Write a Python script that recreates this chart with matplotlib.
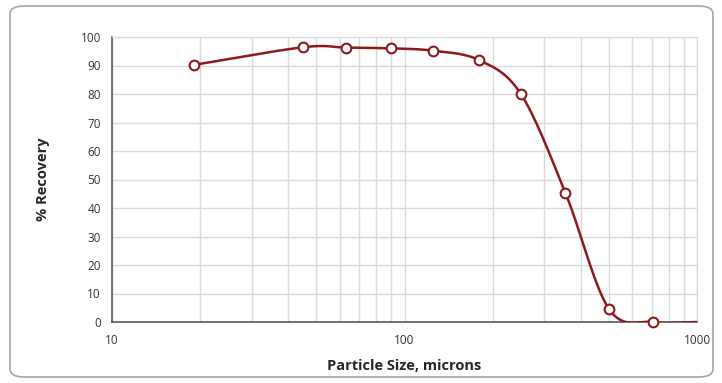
import numpy as np
import matplotlib.pyplot as plt
from matplotlib.patches import FancyBboxPatch
from matplotlib.ticker import FixedLocator, NullFormatter

plt.rcParams['font.family'] = ['Open Sans', 'DejaVu Sans']

# Data
size_um = [19, 45, 63, 90, 125, 180, 250, 355, 500, 710, 1000]
recovery = [90.2, 96.4, 96.3, 96.0, 95.2, 91.9, 80.0, 45.3, 4.6, 0.0, 0.0]
n_markers = 10  # last point only carries the line to the axis end

line_color = '#8c1a1a'


def smooth(xs, ys, n=40):
    # Catmull-Rom style smoothing (like a spreadsheet "smoothed line")
    lx = np.log10(xs)
    ys = np.asarray(ys, dtype=float)
    px = np.concatenate([[2 * lx[0] - lx[1]], lx, [2 * lx[-1] - lx[-2]]])
    py = np.concatenate([[2 * ys[0] - ys[1]], ys, [2 * ys[-1] - ys[-2]]])
    out_x, out_y = [], []
    t = np.linspace(0, 1, n)
    for i in range(1, len(px) - 2):
        p0x, p1x, p2x, p3x = px[i - 1:i + 3]
        p0y, p1y, p2y, p3y = py[i - 1:i + 3]
        c1x = p1x + (p2x - p0x) / 6
        c1y = p1y + (p2y - p0y) / 6
        c2x = p2x - (p3x - p1x) / 6
        c2y = p2y - (p3y - p1y) / 6
        bx = (1 - t) ** 3 * p1x + 3 * (1 - t) ** 2 * t * c1x + 3 * (1 - t) * t ** 2 * c2x + t ** 3 * p2x
        by = (1 - t) ** 3 * p1y + 3 * (1 - t) ** 2 * t * c1y + 3 * (1 - t) * t ** 2 * c2y + t ** 3 * p2y
        out_x.extend(bx)
        out_y.extend(by)
    return 10 ** np.array(out_x), np.array(out_y)


fig = plt.figure(figsize=(7.22, 3.83), dpi=100)

# rounded chart border
frame = FancyBboxPatch((10 / 722, 6 / 383), 703 / 722, 371 / 383,
                       boxstyle='round,pad=0,rounding_size=0.02',
                       transform=fig.transFigure, facecolor='none',
                       edgecolor='#a6a6a6', linewidth=1.2, zorder=-1)
fig.patches.append(frame)

ax = fig.add_axes([112 / 722, 61 / 383, 585 / 722, 285 / 383])
ax.set_xscale('log')
ax.set_xlim(10, 1000)
ax.set_ylim(0, 100)

sx, sy = smooth(size_um, recovery)
ax.plot(sx, sy, color=line_color, linewidth=1.8, zorder=3)
ax.plot(size_um[:n_markers], recovery[:n_markers], linestyle='none', marker='o',
        markersize=7, markerfacecolor='white', markeredgecolor=line_color,
        markeredgewidth=1.5, zorder=4, clip_on=False)

ax.set_yticks(range(0, 101, 10))
ax.set_xticks([10, 100, 1000])
ax.set_xticklabels(['10', '100', '1000'])
ax.xaxis.set_minor_locator(FixedLocator([m * d for d in (10, 100) for m in range(2, 10)]))
ax.xaxis.set_minor_formatter(NullFormatter())

ax.grid(True, which='both', axis='x', color='#d9d9d9', linewidth=1)
ax.grid(True, which='major', axis='y', color='#d9d9d9', linewidth=1)
ax.set_axisbelow(True)
ax.tick_params(which='both', length=0)
ax.tick_params(axis='y', labelsize=8.5, pad=8, colors='#333333')
ax.tick_params(axis='x', labelsize=8.5, pad=9, colors='#333333')

for side in ('top', 'right'):
    ax.spines[side].set_color('#d9d9d9')
for side in ('left', 'bottom'):
    ax.spines[side].set_color('#595959')
    ax.spines[side].set_linewidth(1.2)

ax.set_xlabel('Particle Size, microns', fontsize=10.5, fontweight='bold', labelpad=8, color='#262626')
ax.set_ylabel('% Recovery', fontsize=10.5, fontweight='bold', labelpad=22, color='#262626')

fig.savefig('out.png', dpi=100)
